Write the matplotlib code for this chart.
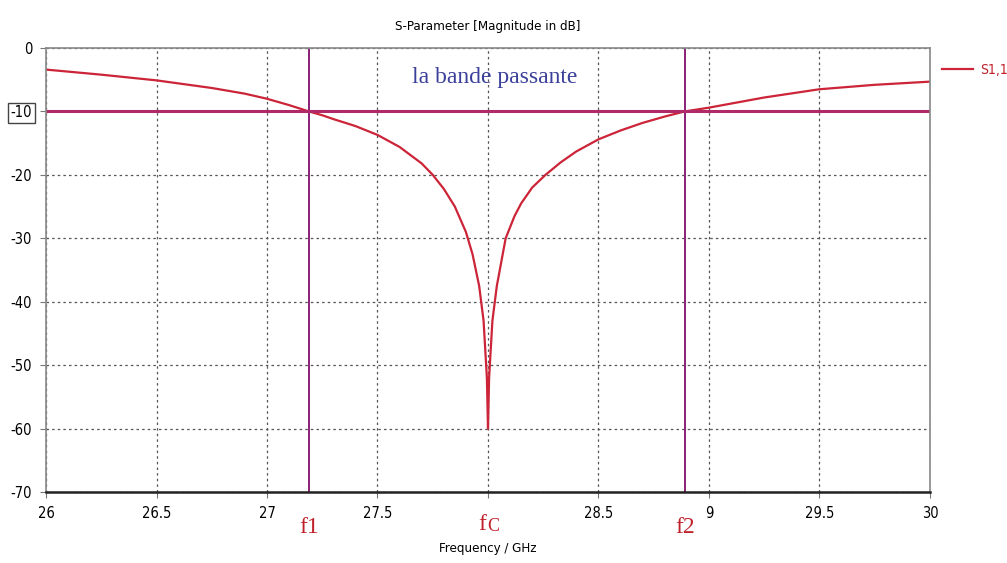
import matplotlib
matplotlib.use("Agg")
import matplotlib.pyplot as plt

# S11 (GHz, dB)
freq = [26.0, 26.25, 26.5, 26.75, 26.9, 27.0, 27.1, 27.19, 27.25, 27.3, 27.4, 27.5,
        27.6, 27.7, 27.75, 27.8, 27.85, 27.9, 27.93, 27.96, 27.98, 27.995, 28.0,
        28.005, 28.02, 28.04, 28.08, 28.12, 28.15, 28.2, 28.26, 28.33, 28.4,
        28.5, 28.6, 28.7, 28.8, 28.89, 29.0, 29.25, 29.5, 29.75, 30.0]
s11 = [-3.4, -4.2, -5.1, -6.3, -7.2, -8.0, -9.0, -10.0, -10.6, -11.2, -12.3, -13.7,
       -15.6, -18.2, -20.0, -22.2, -25.0, -29.0, -32.5, -37.5, -43.0, -52.0, -60.0,
       -52.0, -43.0, -37.5, -30.0, -26.5, -24.5, -22.0, -20.0, -18.0, -16.3,
       -14.4, -13.0, -11.8, -10.8, -10.0, -9.4, -7.8, -6.5, -5.8, -5.3]

f1 = 27.19
f2 = 28.89
fc = 28.0
level = -10

xticks = [26, 26.5, 27, 27.5, 28, 28.5, 29, 29.5, 30]
xtick_labels = ["26", "26.5", "27", "27.5", "", "28.5", "9", "29.5", "30"]
yticks = [0, -10, -20, -30, -40, -50, -60, -70]

plt.rcParams['font.family'] = ['DejaVu Sans']
plt.rcParams['font.stretch'] = 'condensed'
plt.rcParams['axes.unicode_minus'] = False

fig = plt.figure(figsize=(10.07, 5.63), dpi=100)
ax = fig.add_axes([0.0457, 0.1261, 0.8778, 0.7886])

ax.plot(freq, s11, color="#cc2438", lw=1.6, label="S1,1")
ax.axvline(f1, color="#8a1f78", lw=1.4)
ax.axvline(f2, color="#8a1f78", lw=1.4)
ax.axhline(level, color="#b02a6a", lw=2.2)

ax.set_xlim(26, 30)
ax.set_ylim(-70, 0)
ax.set_xticks(xticks)
ax.set_xticklabels(xtick_labels)
ax.set_yticks(yticks)
ax.grid(True, color="#555555", linestyle=(0, (2, 2.5)), lw=0.9)
ax.tick_params(length=4, color="#777777", labelsize=10.5, pad=6)

for side in ["top", "right", "left"]:
    ax.spines[side].set_color("#888888")
    ax.spines[side].set_linewidth(1.2)
ax.spines["bottom"].set_color("#222222")
ax.spines["bottom"].set_linewidth(1.8)

for lbl in ax.get_yticklabels():
    if lbl.get_text() == "-10":
        lbl.set_bbox(dict(facecolor="white", edgecolor="#444444", pad=2))

ax.set_title("S-Parameter [Magnitude in dB]", fontsize=9.5, pad=13)
ax.set_xlabel("Frequency / GHz", fontsize=9.5, labelpad=15)

ax.text(0.5 * (f1 + f2) - 0.01, -4.6, "la bande passante", family="Liberation Serif",
        fontsize=17, color="#3a3f9a", ha="center", va="center")

red = "#c0202a"
ax.text(f1, -75.6, "f1", family="Liberation Serif", fontsize=17, color=red,
        ha="center", va="center", clip_on=False)
ax.text(f2, -75.6, "f2", family="Liberation Serif", fontsize=17, color=red,
        ha="center", va="center", clip_on=False)
ax.text(fc - 0.025, -75.1, "f", family="Liberation Serif", fontsize=17, color=red,
        ha="center", va="center", clip_on=False)
ax.text(fc + 0.025, -75.4, "C", family="Liberation Serif", fontsize=13, color=red,
        ha="center", va="center", clip_on=False)

ax.legend(loc="upper left", bbox_to_anchor=(1.0, 0.995), frameon=False,
          fontsize=10, handlelength=2.2, handletextpad=0.5, labelcolor="#c0202a")

fig.savefig("out.png", dpi=100)
